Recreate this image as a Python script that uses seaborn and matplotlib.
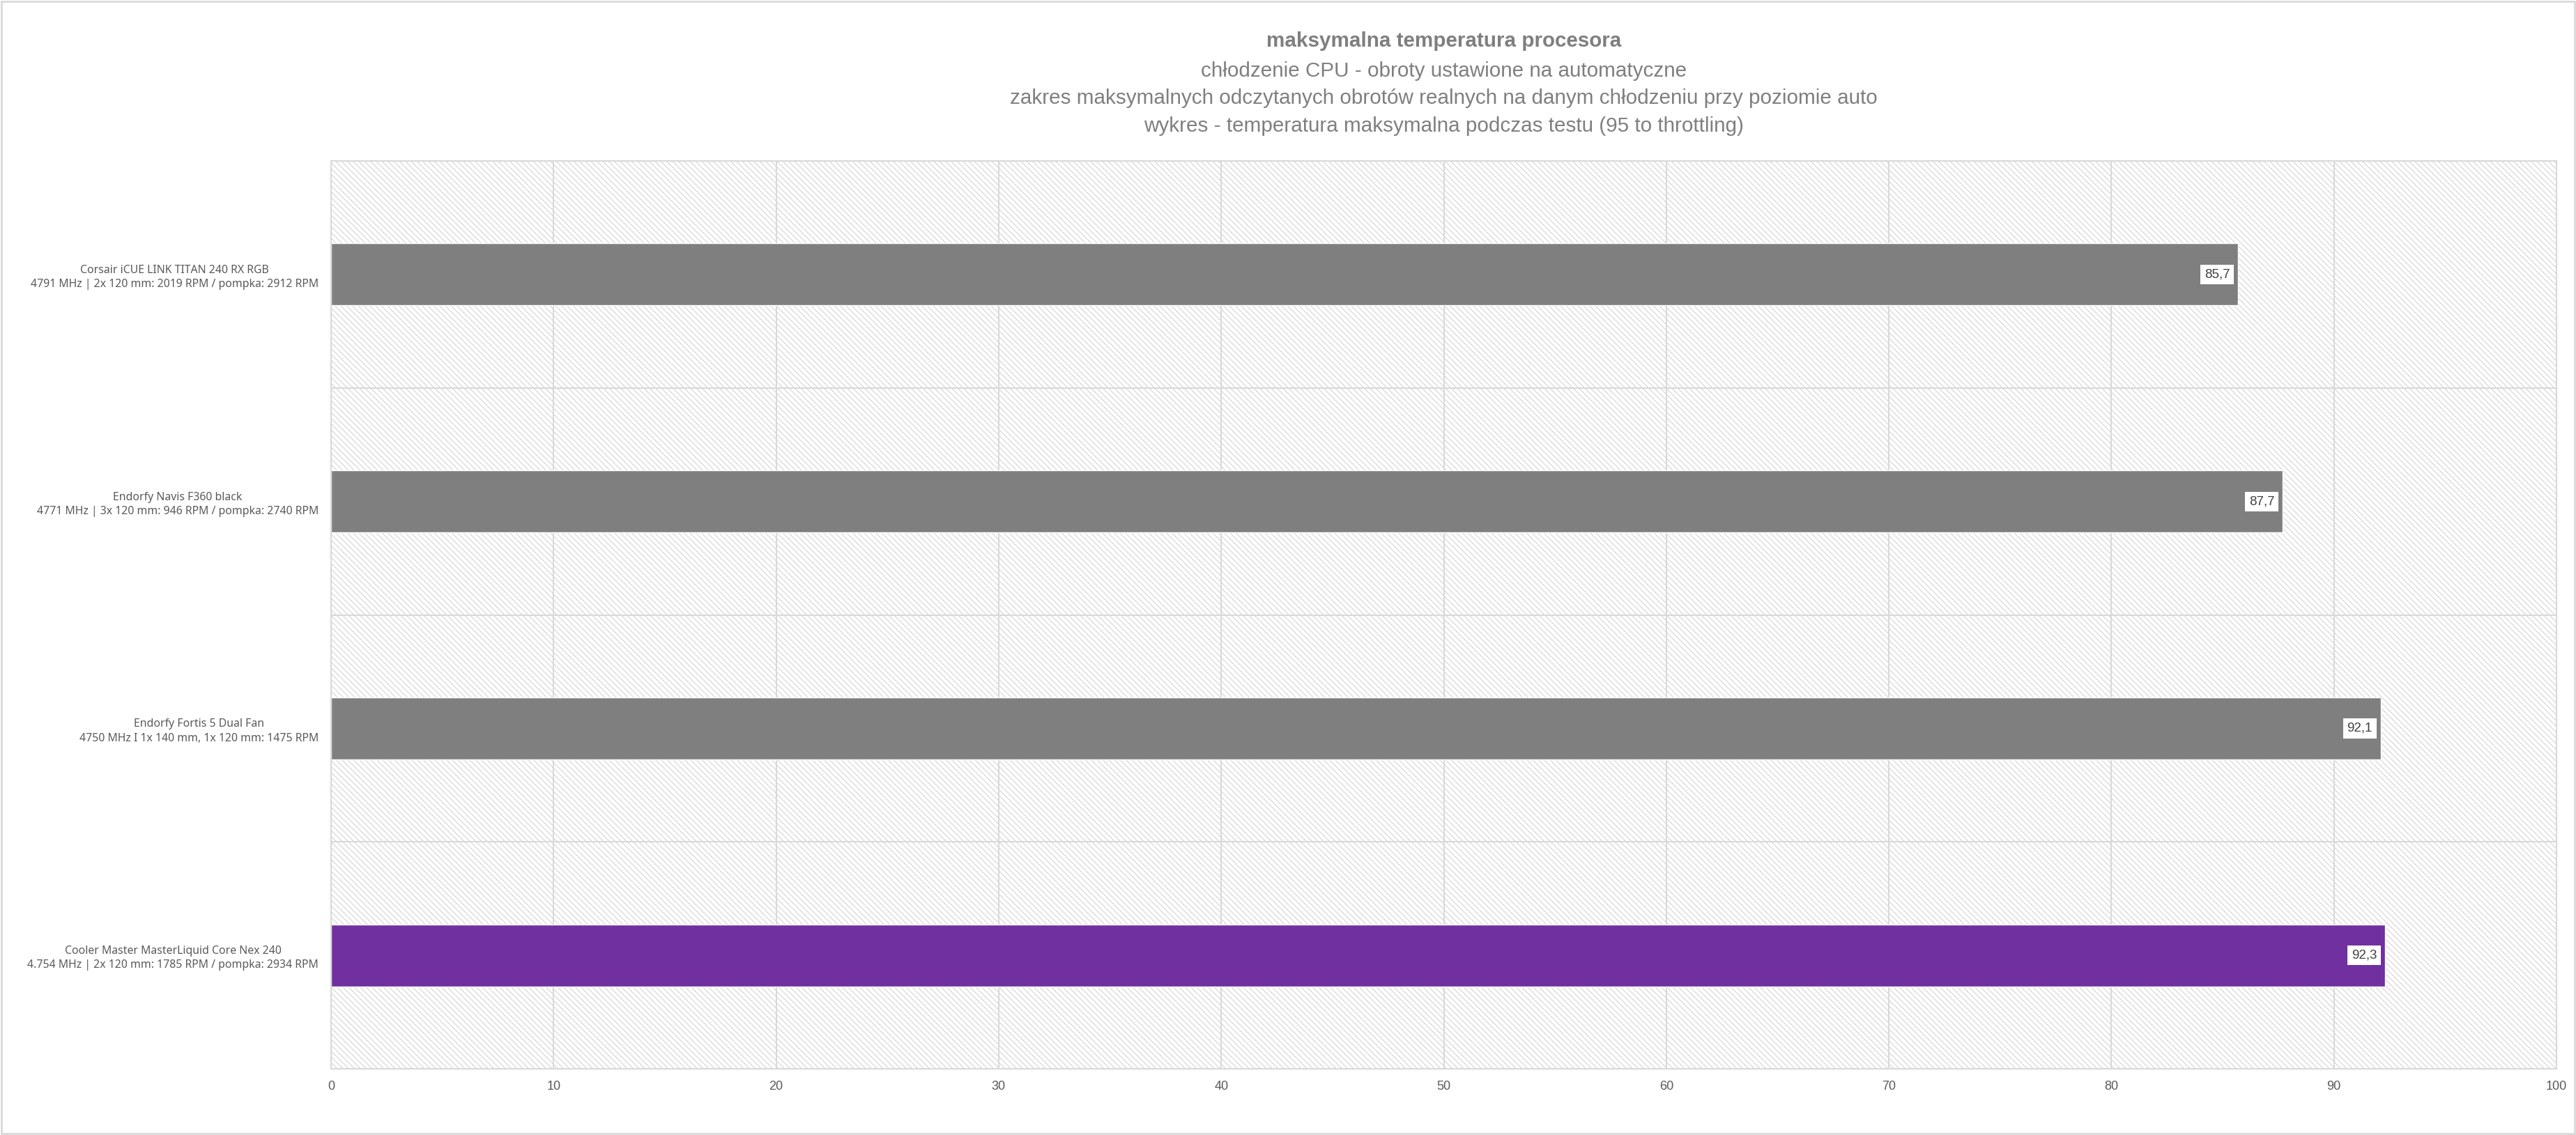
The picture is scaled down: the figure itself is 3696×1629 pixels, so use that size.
import matplotlib
matplotlib.use("Agg")
import matplotlib.pyplot as plt
import seaborn as sns
import pandas as pd
from matplotlib.patches import Rectangle

# ---- data ----
coolers = [
    "Corsair iCUE LINK TITAN 240 RX RGB\n4791 MHz | 2x 120 mm: 2019 RPM / pompka: 2912 RPM",
    "Endorfy Navis F360 black\n4771 MHz | 3x 120 mm: 946 RPM / pompka: 2740 RPM",
    "Endorfy Fortis 5 Dual Fan\n4750 MHz I 1x 140 mm, 1x 120 mm: 1475 RPM",
    "Cooler Master MasterLiquid Core Nex 240\n4.754 MHz | 2x 120 mm: 1785 RPM / pompka: 2934 RPM",
]
max_temp = [85.7, 87.7, 92.1, 92.3]
bar_colors = ["#7f7f7f", "#7f7f7f", "#7f7f7f", "#7030a0"]
x_ticks = [0, 10, 20, 30, 40, 50, 60, 70, 80, 90, 100]
title_lines = [
    "maksymalna temperatura procesora",
    "chłodzenie CPU - obroty ustawione na automatyczne",
    "zakres maksymalnych odczytanych obrotów realnych na danym chłodzeniu przy poziomie auto",
    "wykres - temperatura maksymalna podczas testu (95 to throttling)",
]

df = pd.DataFrame({"cooler": coolers, "temp": max_temp})

sns.set_theme(style="white")
plt.rcParams["hatch.color"] = "#d4d4d4"
plt.rcParams["hatch.linewidth"] = 0.8

fig = plt.figure(figsize=(36.96, 16.29), dpi=100)
ax = fig.add_axes([475 / 3696, 95 / 1629, (3668 - 475) / 3696, (1534 - 231) / 1629])

# hatched background
bg = Rectangle((0, 0), 1, 1, transform=ax.transAxes, facecolor="white",
               edgecolor="#d4d4d4", linewidth=0, hatch="\\\\\\\\", zorder=0)
ax.add_patch(bg)

sns.barplot(data=df, x="temp", y="cooler", hue="cooler", palette=bar_colors,
            orient="h", width=0.273, legend=False, saturation=1, ax=ax, zorder=2)

ax.set_xlim(0, 100)
ax.set_ylim(3.5, -0.5)
ax.set_xticks(x_ticks)
ax.set_xticklabels([str(t) for t in x_ticks], fontsize=13, color="#595959",
                   family=["Liberation Sans", "DejaVu Sans"])
ax.set_yticks(range(len(coolers)))
ax.set_yticklabels(coolers, fontsize=11.4, color="#595959",
                   family=["Noto Sans", "DejaVu Sans"], multialignment="center",
                   linespacing=1.35)
ax.set_yticks([0.5, 1.5, 2.5], minor=True)
ax.tick_params(axis="x", length=0, pad=12)
ax.tick_params(axis="y", which="both", length=0, pad=13)
ax.set_xlabel("")
ax.set_ylabel("")

ax.set_axisbelow(True)
ax.grid(axis="x", which="major", color="#d9d9d9", linewidth=1.5, zorder=1)
ax.grid(axis="y", which="minor", color="#d9d9d9", linewidth=1.5, zorder=1)
for s in ax.spines.values():
    s.set_color("#d9d9d9")
    s.set_linewidth(1.5)
    s.set_visible(True)

# value labels
bars = [p for p in ax.patches if p is not bg]
for rect, v in zip(bars, max_temp):
    ax.annotate(f"{v:.1f}".replace(".", ","),
                xy=(rect.get_x() + rect.get_width(), rect.get_y() + rect.get_height() / 2),
                xytext=(-8.5, 0), textcoords="offset points", ha="right", va="center",
                fontsize=13.5, color="#404040", family=["Liberation Sans", "DejaVu Sans"],
                bbox=dict(boxstyle="square,pad=0.3", facecolor="white", edgecolor="none"),
                zorder=5)

# title block
cx = (475 + 3668) / 2 / 3696
ys = [59, 102, 141, 181]
for i, (line, yy) in enumerate(zip(title_lines, ys)):
    fig.text(cx, 1 - yy / 1629, line, ha="center", va="center",
             fontsize=21.3, color="#7f7f7f",
             fontweight="bold" if i == 0 else "normal",
             family=["Liberation Sans Narrow", "Liberation Sans", "DejaVu Sans"])

# figure border
fig.patches.append(Rectangle((0.0005, 0.001), 0.999, 0.998, transform=fig.transFigure,
                             facecolor="none", edgecolor="#d9d9d9", linewidth=2))

fig.savefig("out.png", dpi=100, facecolor="white")
